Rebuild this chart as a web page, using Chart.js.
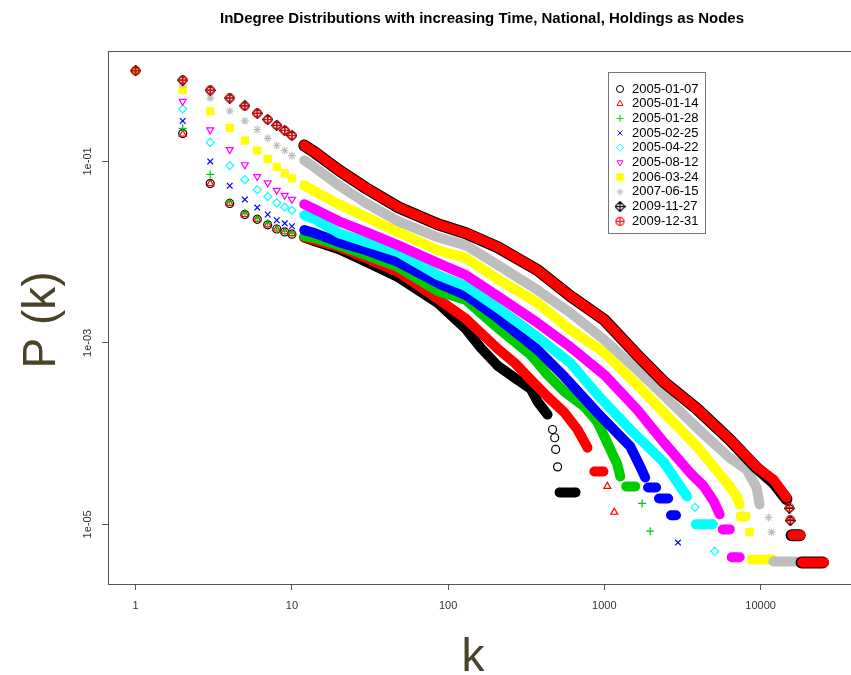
<!DOCTYPE html>
<html>
<head>
<meta charset="utf-8">
<title>InDegree Distributions</title>
<script src="https://cdn.jsdelivr.net/npm/chart.js@4.4.1/dist/chart.umd.min.js"></script>
<style>
  html, body { margin: 0; padding: 0; background: #fff; overflow: hidden; }
  #wrap { width: 862px; height: 675px; }
</style>
</head>
<body>
<div id="wrap"><canvas id="chart" width="862" height="675"></canvas></div>
<script>
// snapshot dates (legend order)
const dates = ["2005-01-07", "2005-01-14", "2005-01-28", "2005-02-25", "2005-04-22",
               "2005-08-12", "2006-03-24", "2007-06-15", "2009-11-27", "2009-12-31"];
const colors = ["#000000", "#ff0000", "#00cd00", "#0000ff", "#00ffff",
                "#ff00ff", "#ffff00", "#bebebe", "#000000", "#ff0000"];

// axis ticks
const xTicks = [1, 10, 100, 1000, 10000];
const xTickLabels = ["1", "10", "100", "1000", "10000"];
const yTicks = [1e-1, 1e-3, 1e-5];
const yTickLabels = ["1e-01", "1e-03", "1e-05"];

// k and P(k), null = gap between separate markers
const k0107 = [1,2,3,4,5,6,7,8,9,10,12,14,20,30,48,86,128,162,208,267,338,374,433,null,466,null,481,null,488,null,502,null,517,654];
const p0107 = [1,0.203,0.057,0.0345,0.026,0.023,0.020,0.018,0.0167,0.0158,0.0145,0.0132,0.0108,0.0078,0.0053,0.00275,0.00146,8.8e-4,5.58e-4,4.12e-4,3.12e-4,2.25e-4,1.62e-4,null,1.11e-4,null,9.0e-5,null,6.7e-5,null,4.3e-5,null,2.25e-5,2.25e-5];

const k0114 = [1,2,3,4,5,6,7,8,9,10,12,14,20,30,48,86,128,162,208,267,338,433,556,673,780,null,863,986,null,1045,null,1158];
const p0114 = [1,0.20,0.057,0.0345,0.026,0.023,0.020,0.018,0.0168,0.016,0.0146,0.0136,0.0114,0.0086,0.00603,0.00305,0.00188,0.00129,8.6e-4,6.0e-4,3.92e-4,2.55e-4,1.70e-4,1.11e-4,7.0e-5,null,3.82e-5,3.82e-5,null,2.62e-5,null,1.36e-5];

const k0128 = [1,2,3,4,5,6,7,8,9,10,12,14,20,30,48,86,130,208,338,433,556,746,902,1000,1092,1210,1265,null,1380,1575,null,1745,null,1963];
const p0128 = [1,0.232,0.072,0.036,0.027,0.0237,0.0208,0.018,0.0170,0.0162,0.0150,0.0143,0.0119,0.0093,0.00684,0.00372,0.00297,0.00146,7.4e-4,4.45e-4,2.9e-4,1.98e-4,1.35e-4,9.3e-5,6.7e-5,4.6e-5,3.37e-5,null,2.62e-5,2.62e-5,null,1.70e-5,null,8.4e-6];

const k0225 = [1,2,3,4,5,6,7,8,9,10,12,14,20,30,48,86,130,208,374,556,902,1465,1695,1825,null,1905,2145,null,2240,2560,null,2670,2875,null,2960];
const p0225 = [1,0.28,0.10,0.054,0.038,0.031,0.026,0.0225,0.0208,0.0193,0.0175,0.0162,0.0129,0.0105,0.00776,0.00456,0.00337,0.00188,8.4e-4,4.23e-4,1.70e-4,7.2e-5,4.34e-5,3.28e-5,null,2.55e-5,2.55e-5,null,1.93e-5,1.93e-5,null,1.26e-5,1.26e-5,null,6.3e-6];

const k0422 = [1,2,3,4,5,6,7,8,9,10,12,14,20,30,48,86,130,208,374,607,902,1465,2410,3050,3380,null,3800,null,3855,4945,null,5090];
const p0422 = [1,0.38,0.162,0.090,0.063,0.049,0.041,0.035,0.0313,0.029,0.0255,0.0231,0.0162,0.0129,0.0100,0.00558,0.00423,0.00243,0.00116,6.0e-4,2.69e-4,1.11e-4,4.8e-5,2.62e-5,2.03e-5,null,1.54e-5,null,1.0e-5,1.0e-5,null,5.05e-6];

const k0812 = [1,2,3,4,5,6,7,8,9,10,12,14,20,30,48,86,130,208,374,607,1000,1622,2410,3530,4335,5020,5480,null,5730,6350,null,6540,7350];
const p0812 = [1,0.46,0.223,0.135,0.092,0.068,0.058,0.048,0.0423,0.0382,0.0337,0.0297,0.0219,0.0166,0.0119,0.00757,0.00558,0.00328,0.00166,9.0e-4,4.45e-4,1.84e-4,7.96e-5,3.72e-5,2.62e-5,1.79e-5,1.29e-5,null,8.8e-6,8.8e-6,null,4.33e-6,4.33e-6];

const k0324 = [1,2,3,4,5,6,7,8,9,10,12,14,20,30,48,86,130,208,374,607,1000,1622,2410,3910,5020,6350,7030,7330,null,7460,8020,null,8510,null,8770,11920];
const p0324 = [1,0.61,0.357,0.234,0.170,0.132,0.107,0.087,0.074,0.065,0.0545,0.0468,0.0337,0.0243,0.0166,0.0105,0.0086,0.00505,0.00275,0.00139,7.8e-4,3.45e-4,1.70e-4,7.2e-5,4.3e-5,2.62e-5,2.03e-5,1.66e-5,null,1.22e-5,1.22e-5,null,8.2e-6,null,4.1e-6,4.1e-6];

const k0615 = [1,2,3,4,5,6,7,8,9,10,12,14,20,30,48,86,130,208,374,607,1000,1622,2410,3910,6350,8150,9430,9860,null,11250,null,11750,null,12100,16700];
const p0615 = [1,0.70,0.50,0.36,0.28,0.225,0.18,0.15,0.132,0.116,0.1026,0.086,0.0545,0.0345,0.0219,0.0146,0.0119,0.0072,0.00382,0.00214,0.00108,5.05e-4,2.62e-4,1.16e-4,5.4e-5,4.0e-5,2.55e-5,1.66e-5,null,1.19e-5,null,8.2e-6,null,3.9e-6,3.9e-6];

const k1127 = [1,2,3,4,5,6,7,8,9,10,12,14,20,30,48,86,130,208,374,607,1000,1622,2410,3910,6350,9430,12100,14650,null,15300,null,15500,null,15800,17800,null,18300,25000];
const p1127 = [1,0.79,0.61,0.50,0.41,0.34,0.29,0.25,0.22,0.193,0.150,0.126,0.080,0.0505,0.0313,0.0203,0.0162,0.01135,0.00634,0.00328,0.00179,7.4e-4,3.7e-4,1.88e-4,8.6e-5,4.2e-5,2.9e-5,1.9e-5,null,1.5e-5,null,1.1e-5,null,7.6e-6,7.6e-6,null,3.8e-6,3.8e-6];

const k1231 = [1,2,3,4,5,6,7,8,9,10,12,14,20,30,48,86,130,208,374,607,1000,1622,2410,3910,6350,9430,12100,14650,null,15300,null,15500,null,16000,18000,null,18500,25500];
const p1231 = [1,0.79,0.61,0.50,0.41,0.34,0.29,0.25,0.22,0.193,0.150,0.126,0.080,0.0505,0.0313,0.0203,0.0162,0.01135,0.00634,0.00328,0.00179,7.4e-4,3.7e-4,1.88e-4,8.6e-5,4.3e-5,3.1e-5,1.98e-5,null,1.54e-5,null,1.13e-5,null,7.6e-6,7.6e-6,null,3.8e-6,3.8e-6];

const seriesK = [k0107, k0114, k0128, k0225, k0422, k0812, k0324, k0615, k1127, k1231];
const seriesP = [p0107, p0114, p0128, p0225, p0422, p0812, p0324, p0615, p1127, p1231];

// R style symbols that chart.js doesn't have
function symbol(kind, color) {
  const c = document.createElement("canvas");
  c.width = 11; c.height = 11;
  const g = c.getContext("2d");
  g.strokeStyle = color;
  g.lineWidth = 1.2;
  g.beginPath();
  if (kind === "circlePlus") {
    g.arc(5.5, 5.5, 4, 0, 2 * Math.PI);
    g.moveTo(1.5, 5.5); g.lineTo(9.5, 5.5);
    g.moveTo(5.5, 1.5); g.lineTo(5.5, 9.5);
  } else {
    g.moveTo(5.5, 0.5); g.lineTo(10.5, 5.5); g.lineTo(5.5, 10.5); g.lineTo(0.5, 5.5); g.closePath();
    g.moveTo(0.5, 5.5); g.lineTo(10.5, 5.5);
    g.moveTo(5.5, 0.5); g.lineTo(5.5, 10.5);
  }
  g.stroke();
  return c;
}

const styles = [
  { pointStyle: "circle" },
  { pointStyle: "triangle" },
  { pointStyle: "cross" },
  { pointStyle: "crossRot" },
  { pointStyle: "rectRot" },
  { pointStyle: "triangle", rotation: 180 },
  { pointStyle: "rect", filled: true, radius: 5 },
  { pointStyle: "star" },
  { pointStyle: symbol("diamondPlus", "#000000") },
  { pointStyle: symbol("circlePlus", "#ff0000") }
];

const datasets = dates.map((d, i) => {
  const st = styles[i];
  const big = i === 8; // black one sits under the red one, a bit wider
  return {
    label: d,
    data: seriesK[i].map((k, j) => ({ x: k, y: seriesP[i][j] })),
    showLine: true,
    borderColor: colors[i],
    borderWidth: big ? 12 : 10,
    borderCapStyle: "round",
    borderJoinStyle: "round",
    // markers only stay apart for small k, the band starts at k = 12
    segment: {
      borderColor: c => (c.p0.parsed.x < 12 ? "rgba(0,0,0,0)" : undefined)
    },
    pointStyle: st.pointStyle,
    pointRotation: st.rotation || 0,
    pointRadius: st.radius || 4,
    pointBorderWidth: 1.2,
    pointBorderColor: colors[i],
    pointBackgroundColor: st.filled ? colors[i] : "rgba(0,0,0,0)",
    order: 10 - i
  };
});

// title, axis titles, box top, legend
const decor = {
  id: "decor",
  afterDraw(chart) {
    const ctx = chart.ctx;
    const a = chart.chartArea;
    ctx.save();

    ctx.strokeStyle = "#555";
    ctx.lineWidth = 1;
    ctx.beginPath();
    ctx.moveTo(a.left, a.top + 0.5);
    ctx.lineTo(a.right, a.top + 0.5);
    ctx.stroke();

    ctx.fillStyle = "#000";
    ctx.font = "bold 15px 'Liberation Sans', Arial, sans-serif";
    ctx.textAlign = "center";
    ctx.textBaseline = "middle";
    ctx.fillText("InDegree Distributions with increasing Time, National, Holdings as Nodes", 482, 19);

    ctx.fillStyle = "#4a4229";
    ctx.font = "46px 'Liberation Sans Narrow', 'Liberation Sans', sans-serif";
    ctx.textBaseline = "alphabetic";
    ctx.fillText("k", 473, 671);
    ctx.save();
    ctx.translate(55, 320);
    ctx.rotate(-Math.PI / 2);
    ctx.fillText("P (k)", 0, 0);
    ctx.restore();

    // legend box
    ctx.strokeStyle = "#777";
    ctx.strokeRect(608.5, 72.5, 97, 161);
    ctx.font = "13px 'Liberation Sans', Arial, sans-serif";
    ctx.textAlign = "left";
    ctx.textBaseline = "middle";
    chart.data.datasets.forEach((ds, i) => {
      const y = 89 + i * 14.7;
      ctx.fillStyle = ds.pointBackgroundColor;
      ctx.strokeStyle = ds.pointBorderColor;
      ctx.lineWidth = 1;
      Chart.helpers.drawPoint(ctx, {
        pointStyle: ds.pointStyle, rotation: ds.pointRotation,
        radius: ds.pointRadius - 0.5, borderWidth: 1
      }, 620, y);
      ctx.fillStyle = "#000";
      ctx.fillText(ds.label, 632, y);
    });
    ctx.restore();
  }
};

Chart.defaults.font.family = "'Liberation Sans', Arial, sans-serif";

new Chart(document.getElementById("chart"), {
  type: "scatter",
  data: { datasets: datasets },
  options: {
    responsive: false,
    animation: false,
    devicePixelRatio: 1,
    layout: { padding: { top: 51, right: 2, left: 0, bottom: 0 } },
    plugins: { legend: { display: false }, tooltip: { enabled: false } },
    scales: {
      x: {
        type: "logarithmic",
        min: 0.665,
        max: 40700,
        afterBuildTicks: s => { s.ticks = xTicks.map(v => ({ value: v })); },
        afterFit: s => { s.height = 91; },
        ticks: {
          callback: v => xTickLabels[xTicks.indexOf(v)],
          autoSkip: false, maxRotation: 0, padding: 9,
          font: { size: 11 }, color: "#333"
        },
        grid: { drawOnChartArea: false, tickLength: 6, tickColor: "#555" },
        border: { color: "#555" }
      },
      y: {
        type: "logarithmic",
        min: 2.2e-6,
        max: 1.65,
        afterBuildTicks: s => { s.ticks = yTicks.map(v => ({ value: v })); },
        afterFit: s => { s.width = 108; },
        ticks: {
          callback: v => yTickLabels[yTicks.indexOf(v)],
          autoSkip: false, minRotation: 90, maxRotation: 90,
          crossAlign: "center", padding: 0,
          font: { size: 11 }, color: "#333"
        },
        grid: { drawOnChartArea: false, tickLength: 6, tickColor: "#555" },
        border: { color: "#555" }
      }
    }
  },
  plugins: [decor]
});
</script>
</body>
</html>
